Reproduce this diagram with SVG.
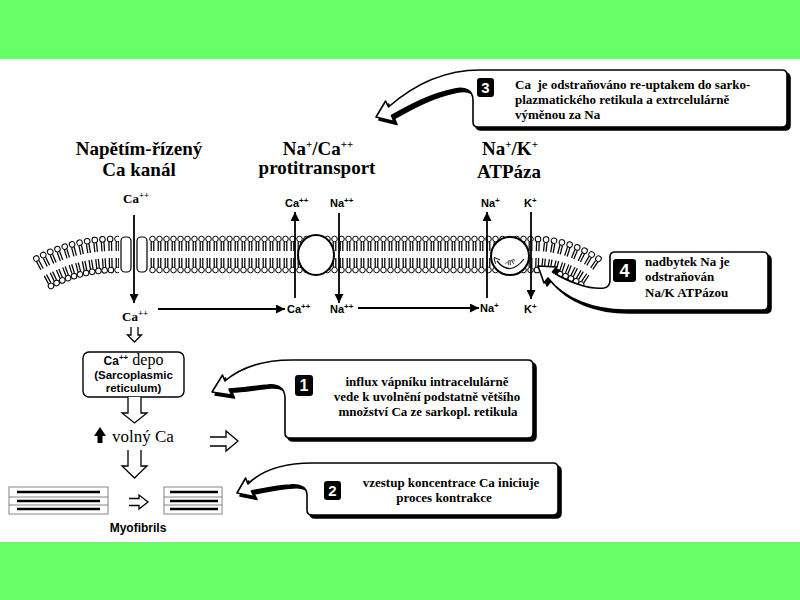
<svg xmlns="http://www.w3.org/2000/svg" xmlns:xlink="http://www.w3.org/1999/xlink" width="800" height="600" viewBox="0 0 800 600">
<style>
.serifB{font-family:"Liberation Serif","Times New Roman",serif;font-weight:bold}
.serif{font-family:"Liberation Serif","Times New Roman",serif;font-weight:normal}
.sansB{font-family:"Liberation Sans",Arial,sans-serif;font-weight:bold}
.title{font-size:19px}
.call{font-size:13px}
.lab{font-size:13px}
.small{font-size:11px}
.head{fill:#fff;stroke:#000;stroke-width:1}
.tail{stroke:#000;stroke-width:1.25;fill:none}
.conn{stroke:#000;stroke-width:1.8;fill:none}
.hollow{fill:#fff;stroke:#000;stroke-width:1.3}
.callout{fill:#fff;stroke:#000;stroke-width:1.6;stroke-linejoin:round}
.shadow{fill:#000;stroke:#000;stroke-width:1.6;stroke-linejoin:round}
.badge{fill:#000}
.digit{fill:#fff;font-family:"Liberation Sans",Arial,sans-serif;font-weight:bold;text-anchor:middle}
.green{fill:#66ff66}
.thick{stroke:#000;stroke-width:2.6}
.thin{stroke:#666;stroke-width:0.8;fill:none}
</style>
<defs>
<g id="lp">
<path class="tail" d="M-1.3,242V251M1.3,242V251M-1.3,258V267M1.3,258V267"/>
<circle class="head" cx="0" cy="239" r="2.8"/>
<circle class="head" cx="0" cy="270" r="2.8"/>
</g>
<pattern id="lip" patternUnits="userSpaceOnUse" x="114" y="0" width="7" height="300">
<use xlink:href="#lp" href="#lp" x="3.5"/>
</pattern>
<marker id="ah" viewBox="0 0 10 10" refX="10" refY="5" markerUnits="userSpaceOnUse" markerWidth="10" markerHeight="9" orient="auto">
<path d="M0,0L10,5L0,10z" fill="#000"/>
</marker>
<marker id="ahs" viewBox="0 0 10 10" refX="2" refY="5" markerUnits="userSpaceOnUse" markerWidth="6" markerHeight="6" orient="auto-start-reverse">
<path d="M0,0L10,5L0,10" fill="none" stroke="#000" stroke-width="1.5"/>
</marker>
<path id="p3" d="M376,117L385.6,101L388.5,107C410,88 440,70 480,70L782,70Q787,70 787,75L787,122Q787,127 782,127L478,127Q473,127 473,122L473,100C473,90 465,87 455,89C430,94 410,105 391.5,115.5L394,121.5Z"/>
<path id="p1" d="M212,392L222.5,375L225,381C240,368 262,360 292,360L528,360Q533,360 533,365L533,433Q533,438 528,438L290,438Q285,438 285,433L285,398C285,388 278,384 268,385C255,386 240,389 229,389L231.5,395Z"/>
<path id="p2" d="M237,493L245.6,478L248,484C262,470 282,463 312,463L553,463Q558,463 558,468L558,510Q558,515 553,515L312,515Q307,515 307,510L307,495C307,487 300,484 290,485C275,486 262,489 251.3,491L254,496.5Z"/>
<path id="p4" d="M538,266L556.5,267L552.5,272C568,282 590,290 604,288Q610,287 610,280L610,257Q610,252 615,252L763,252Q768,252 768,257L768,305Q768,310 763,310L625,310C595,310 565,300 548,278L544,283Z"/>
<path id="atpTxt" d="M500,259Q510,272 521,257"/>
</defs>

<rect x="0" y="0" width="800" height="600" fill="#fff"/>
<rect class="green" x="0" y="0" width="800" height="59"/>
<rect class="green" x="0" y="542" width="800" height="58"/>

<g id="membrane">
<rect x="114" y="234" width="420" height="40" fill="url(#lip)"/>
<g id="membrane-left">
<use href="#lp" transform="rotate(-1.35 114 403) translate(114 0)"/>
<use href="#lp" transform="rotate(-4.04 114 403) translate(114 0)"/>
<use href="#lp" transform="rotate(-6.73 114 403) translate(114 0)"/>
<use href="#lp" transform="rotate(-9.42 114 403) translate(114 0)"/>
<use href="#lp" transform="rotate(-12.11 114 403) translate(114 0)"/>
<use href="#lp" transform="rotate(-14.80 114 403) translate(114 0)"/>
<use href="#lp" transform="rotate(-17.49 114 403) translate(114 0)"/>
<use href="#lp" transform="rotate(-20.19 114 403) translate(114 0)"/>
<use href="#lp" transform="rotate(-22.88 114 403) translate(114 0)"/>
<use href="#lp" transform="rotate(-25.57 114 403) translate(114 0)"/>
<use href="#lp" transform="rotate(-28.26 114 403) translate(114 0)"/>
</g>
<g id="membrane-right">
<use href="#lp" transform="rotate(2.0 534 354) translate(534 0)"/>
<use href="#lp" transform="rotate(6.02 534 354) translate(534 0)"/>
<use href="#lp" transform="rotate(10.03 534 354) translate(534 0)"/>
<use href="#lp" transform="rotate(14.04 534 354) translate(534 0)"/>
<use href="#lp" transform="rotate(18.05 534 354) translate(534 0)"/>
<use href="#lp" transform="rotate(22.06 534 354) translate(534 0)"/>
<use href="#lp" transform="rotate(26.07 534 354) translate(534 0)"/>
<use href="#lp" transform="rotate(30.08 534 354) translate(534 0)"/>
<use href="#lp" transform="rotate(34.09 534 354) translate(534 0)"/>
</g>
</g>

<g id="ca-channel">
<rect x="119" y="234" width="30" height="40" fill="#fff"/>
<rect x="121" y="237" width="10" height="35" rx="4" fill="#fff" stroke="#000" stroke-width="1.2"/>
<rect x="137" y="237" width="10" height="35" rx="4" fill="#fff" stroke="#000" stroke-width="1.2"/>
<text class="serifB title" x="139" y="155" text-anchor="middle">Napětím-řízený</text>
<text class="serifB title" x="139" y="176" text-anchor="middle">Ca kanál</text>
<text class="serifB lab" x="123" y="203">Ca<tspan font-size="9" dy="-5">++</tspan></text>
<text class="serifB lab" x="122" y="321">Ca<tspan font-size="9" dy="-5">++</tspan></text>
</g>

<g id="na-ca-exchanger">
<ellipse cx="316" cy="255" rx="18" ry="20" fill="#fff" stroke="#000" stroke-width="2"/>
<text class="serifB title" x="318" y="155" text-anchor="middle">Na<tspan font-size="11" dy="-7">+</tspan><tspan dy="7">/Ca</tspan><tspan font-size="11" dy="-7">++</tspan></text>
<text class="serifB title" x="317" y="174" text-anchor="middle">protitransport</text>
<text class="sansB small" x="285" y="207">Ca<tspan font-size="8" dy="-4">++</tspan></text>
<text class="sansB small" x="330" y="207">Na<tspan font-size="8" dy="-4">++</tspan></text>
<text class="sansB small" x="287" y="313">Ca<tspan font-size="8" dy="-4">++</tspan></text>
<text class="sansB small" x="330" y="313">Na<tspan font-size="8" dy="-4">++</tspan></text>
</g>

<g id="na-k-atpase">
<circle cx="510" cy="256" r="19" fill="#fff" stroke="#000" stroke-width="2"/>
<path d="M497,261Q510,277 524,259" fill="none" stroke="#000" stroke-width="1.2" marker-start="url(#ahs)"/>
<text font-family="Liberation Serif, serif" font-style="italic" font-size="7" fill="#000"><textPath href="#atpTxt" startOffset="50%" text-anchor="middle">ATP</textPath></text>
<text class="serifB title" x="510" y="155" text-anchor="middle">Na<tspan font-size="11" dy="-7">+</tspan><tspan dy="7">/K</tspan><tspan font-size="11" dy="-7">+</tspan></text>
<text class="serifB title" x="509" y="178" text-anchor="middle">ATPáza</text>
<text class="sansB small" x="481" y="207">Na<tspan font-size="8" dy="-4">+</tspan></text>
<text class="sansB small" x="524" y="207">K<tspan font-size="8" dy="-4">+</tspan></text>
<text class="sansB small" x="480" y="312">Na<tspan font-size="8" dy="-4">+</tspan></text>
<text class="sansB small" x="524" y="313">K<tspan font-size="8" dy="-4">+</tspan></text>
</g>

<g id="ca-depo">
<rect x="83" y="352" width="101" height="45" rx="6" fill="#fff" stroke="#000" stroke-width="1.4"/>
<text x="133.5" y="365" text-anchor="middle"><tspan class="sansB" font-size="12">Ca</tspan><tspan class="sansB" font-size="8" dy="-5">++</tspan><tspan class="serif" font-size="16" dy="5"> depo</tspan></text>
<text class="sansB" font-size="11.5" x="133.5" y="378.5" text-anchor="middle">(Sarcoplasmic</text>
<text class="sansB" font-size="11.5" x="133.5" y="391.5" text-anchor="middle">reticulum)</text>
</g>

<g id="volny-ca">
<path d="M94,436L100,427L106,436H102.5V443H97.5V436Z" fill="#000"/>
<text class="serif" font-size="17" x="112" y="442">volný Ca</text>
</g>

<g id="myofibrils">
<rect x="9" y="487" width="99" height="27" class="thin"/>
<path class="thin" d="M9,497H108M9,505H108"/>
<path class="thick" d="M17,492H100M17,501H100M17,509H100"/>
<rect x="164" y="487" width="58" height="27" class="thin"/>
<path class="thin" d="M164,497H222M164,505H222"/>
<path class="thick" d="M170,492H218M170,501H218M170,509H218"/>
<text class="sansB" font-size="12" x="138" y="532" text-anchor="middle">Myofibrils</text>
</g>

<g id="callout-3">
<use href="#p3" class="shadow" x="3" y="3"/>
<use href="#p3" class="callout"/>
<rect class="badge" x="477" y="78" width="17" height="19" rx="3"/>
<text class="digit" font-size="15" x="485.5" y="93">3</text>
<text class="serifB call" x="515" y="89" xml:space="preserve">Ca  je odstraňováno re-uptakem do sarko-</text>
<text class="serifB call" x="515" y="104">plazmatického retikula a extrcelulárně</text>
<text class="serifB call" x="515" y="119">výměnou za Na</text>
</g>

<g id="callout-4">
<use href="#p4" class="shadow" x="3" y="3"/>
<use href="#p4" class="callout"/>
<rect class="badge" x="613" y="259" width="23" height="23" rx="3"/>
<text class="digit" font-size="18" x="624.5" y="277">4</text>
<text class="serifB call" x="645" y="266">nadbytek Na je</text>
<text class="serifB call" x="645" y="281">odstraňován</text>
<text class="serifB call" x="645" y="297">Na/K ATPázou</text>
</g>

<g id="callout-1">
<use href="#p1" class="shadow" x="3" y="3"/>
<use href="#p1" class="callout"/>
<rect class="badge" x="295" y="375" width="18" height="21" rx="3"/>
<text class="digit" font-size="16" x="304" y="391">1</text>
<text class="serifB call" x="427" y="386" text-anchor="middle">influx vápníku intracelulárně</text>
<text class="serifB call" x="427" y="401" text-anchor="middle">vede k uvolnění podstatně většího</text>
<text class="serifB call" x="428" y="416" text-anchor="middle">množství Ca ze sarkopl. retikula</text>
</g>

<g id="callout-2">
<use href="#p2" class="shadow" x="3" y="3"/>
<use href="#p2" class="callout"/>
<rect class="badge" x="324" y="481" width="17" height="19" rx="3"/>
<text class="digit" font-size="15" x="332.5" y="496">2</text>
<text class="serifB call" x="451" y="487" text-anchor="middle">vzestup koncentrace Ca iniciuje</text>
<text class="serifB call" x="444" y="502" text-anchor="middle">proces kontrakce</text>
</g>

<g id="connectors">
<line class="conn" x1="134" y1="215" x2="134" y2="303" marker-end="url(#ah)"/>
<line class="conn" x1="295" y1="298" x2="295" y2="212" marker-end="url(#ah)"/>
<line class="conn" x1="339" y1="213" x2="339" y2="303" marker-end="url(#ah)"/>
<line class="conn" x1="487" y1="298" x2="487" y2="212" marker-end="url(#ah)"/>
<line class="conn" x1="531" y1="212" x2="531" y2="299" marker-end="url(#ah)"/>
<line class="conn" x1="158" y1="309" x2="285" y2="309" marker-end="url(#ah)"/>
<line class="conn" x1="358" y1="308" x2="479" y2="308" marker-end="url(#ah)"/>
<path class="hollow" d="M131,327V335H127.5L134.5,342L141.5,335H138V327"/>
<path class="hollow" d="M128,397V413H122L134.5,423L147,413H141V397"/>
<path class="hollow" d="M128,450V466H122L134.5,478L147,466H141V450"/>
<path class="hollow" d="M210,437H226V431L238,441L226,451V446H210"/>
<path class="hollow" d="M129,498.5H139V495L148,502L139,509V505.5H129"/>
</g>
</svg>
